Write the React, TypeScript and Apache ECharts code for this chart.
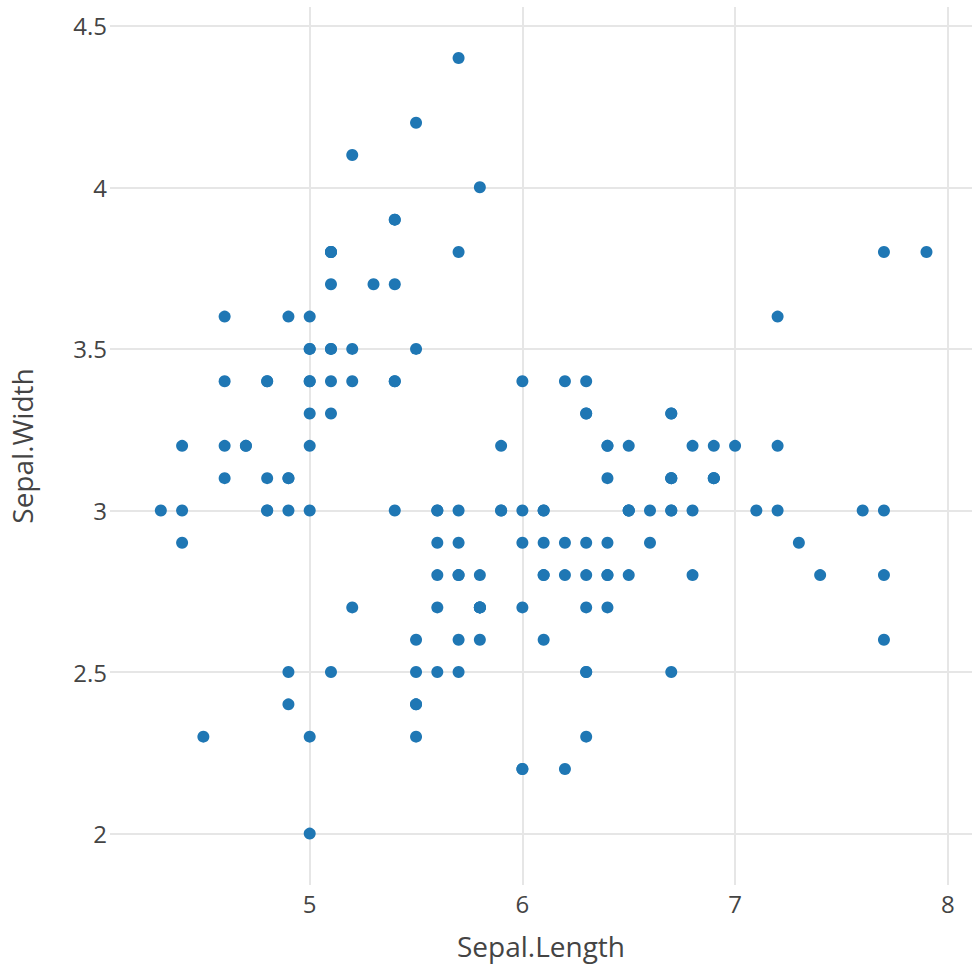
import React, { useEffect, useRef } from "react";
import * as echarts from "echarts";

const sepalLength: number[] = [
  5.1, 4.9, 4.7, 4.6, 5.0, 5.4, 4.6, 5.0, 4.4, 4.9, 5.4, 4.8, 4.8, 4.3, 5.8, 5.7, 5.4, 5.1, 5.7, 5.1,
  5.4, 5.1, 4.6, 5.1, 4.8, 5.0, 5.0, 5.2, 5.2, 4.7, 4.8, 5.4, 5.2, 5.5, 4.9, 5.0, 5.5, 4.9, 4.4, 5.1,
  5.0, 4.5, 4.4, 5.0, 5.1, 4.8, 5.1, 4.6, 5.3, 5.0,
  7.0, 6.4, 6.9, 5.5, 6.5, 5.7, 6.3, 4.9, 6.6, 5.2, 5.0, 5.9, 6.0, 6.1, 5.6, 6.7, 5.6, 5.8, 6.2, 5.6,
  5.9, 6.1, 6.3, 6.1, 6.4, 6.6, 6.8, 6.7, 6.0, 5.7, 5.5, 5.5, 5.8, 6.0, 5.4, 6.0, 6.7, 6.3, 5.6, 5.5,
  5.5, 6.1, 5.8, 5.0, 5.6, 5.7, 5.7, 6.2, 5.1, 5.7,
  6.3, 5.8, 7.1, 6.3, 6.5, 7.6, 4.9, 7.3, 6.7, 7.2, 6.5, 6.4, 6.8, 5.7, 5.8, 6.4, 6.5, 7.7, 7.7, 6.0,
  6.9, 5.6, 7.7, 6.3, 6.7, 7.2, 6.2, 6.1, 6.4, 7.2, 7.4, 7.9, 6.4, 6.3, 6.1, 7.7, 6.3, 6.4, 6.0, 6.9,
  6.7, 6.9, 5.8, 6.8, 6.7, 6.7, 6.3, 6.5, 6.2, 5.9,
];

const sepalWidth: number[] = [
  3.5, 3.0, 3.2, 3.1, 3.6, 3.9, 3.4, 3.4, 2.9, 3.1, 3.7, 3.4, 3.0, 3.0, 4.0, 4.4, 3.9, 3.5, 3.8, 3.8,
  3.4, 3.7, 3.6, 3.3, 3.4, 3.0, 3.4, 3.5, 3.4, 3.2, 3.1, 3.4, 4.1, 4.2, 3.1, 3.2, 3.5, 3.6, 3.0, 3.4,
  3.5, 2.3, 3.2, 3.5, 3.8, 3.0, 3.8, 3.2, 3.7, 3.3,
  3.2, 3.2, 3.1, 2.3, 2.8, 2.8, 3.3, 2.4, 2.9, 2.7, 2.0, 3.0, 2.2, 2.9, 2.9, 3.1, 3.0, 2.7, 2.2, 2.5,
  3.2, 2.8, 2.5, 2.8, 2.9, 3.0, 2.8, 3.0, 2.9, 2.6, 2.4, 2.4, 2.7, 2.7, 3.0, 3.4, 3.1, 2.3, 3.0, 2.5,
  2.6, 3.0, 2.6, 2.3, 2.7, 3.0, 2.9, 2.9, 2.5, 2.8,
  3.3, 2.7, 3.0, 2.9, 3.0, 3.0, 2.5, 2.9, 2.5, 3.6, 3.2, 2.7, 3.0, 2.5, 2.8, 3.2, 3.0, 3.8, 2.6, 2.2,
  3.2, 2.8, 2.8, 2.7, 3.3, 3.2, 2.8, 3.0, 2.8, 3.0, 2.8, 3.8, 2.8, 2.8, 2.6, 3.0, 3.4, 3.1, 3.0, 3.1,
  3.1, 3.1, 2.7, 3.2, 3.3, 3.0, 2.5, 3.0, 3.4, 3.0,
];

const xTicks: number[] = [5, 6, 7, 8];
const yTicks: number[] = [2, 2.5, 3, 3.5, 4, 4.5];
const xRange: number[] = [4.061, 8.114];
const yRange: number[] = [1.841, 4.558];

export default function App() {
  const ref = useRef<HTMLDivElement>(null);
  useEffect(() => {
    document.body.style.margin = "0";
    if (!ref.current) return;
    const chart = echarts.init(ref.current, undefined, { renderer: "svg" });
    const font = "'Open Sans', 'Noto Sans', sans-serif";
    const gridLine = { show: true, lineStyle: { color: "#e6e6e6", width: 2 } };
    chart.setOption({
      animation: false,
      backgroundColor: "#ffffff",
      grid: { left: 109, top: 7, right: 0, bottom: 81, containLabel: false },
      xAxis: {
        type: "value",
        min: xRange[0],
        max: xRange[1],
        name: "Sepal.Length",
        nameLocation: "middle",
        nameGap: 47,
        nameTextStyle: { fontFamily: font, fontSize: 28, color: "#444" },
        axisLine: { show: false },
        axisTick: { show: false, customValues: xTicks },
        axisLabel: {
          customValues: xTicks,
          fontFamily: font,
          fontSize: 24,
          color: "#444",
          margin: 6,
        },
        splitLine: gridLine,
      },
      yAxis: {
        type: "value",
        min: yRange[0],
        max: yRange[1],
        name: "Sepal.Width",
        nameLocation: "middle",
        nameGap: 74,
        nameTextStyle: { fontFamily: font, fontSize: 28, color: "#444" },
        axisLine: { show: false },
        axisTick: { show: false, customValues: yTicks },
        axisLabel: {
          customValues: yTicks,
          fontFamily: font,
          fontSize: 24,
          color: "#444",
          margin: 3,
        },
        splitLine: gridLine,
      },
      series: [
        {
          type: "scatter",
          data: sepalLength.map((x, i) => [x, sepalWidth[i]]),
          symbol: "circle",
          symbolSize: 12,
          itemStyle: { color: "#1f77b4", opacity: 1 },
        },
      ],
    });
    return () => chart.dispose();
  }, []);
  return <div ref={ref} style={{ width: 972, height: 966 }} />;
}
